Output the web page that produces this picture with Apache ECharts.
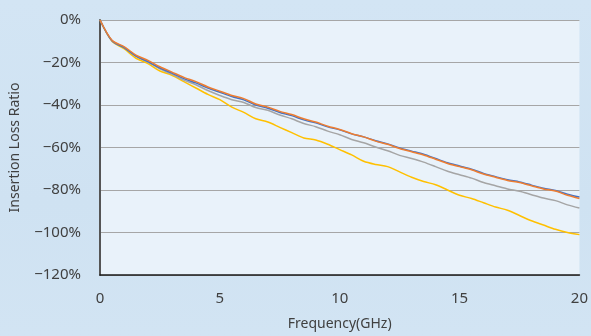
<!DOCTYPE html>
<html>
<head>
<meta charset="utf-8">
<script src="https://cdn.jsdelivr.net/npm/echarts@6/dist/echarts.min.js"></script>
<style>
  html, body { margin: 0; padding: 0; }
  body {
    width: 591px; height: 336px; overflow: hidden;
    background: linear-gradient(180deg, #d3e5f4 0%, #cfe2f2 60%, #d2e4f3 100%);
  }
  #chart { width: 591px; height: 336px; }
</style>
</head>
<body>
<div id="chart"></div>
<script>
// frequency points (GHz)
const freq = [0, 0.5, 1, 1.5, 2, 2.5, 3, 3.5, 4, 4.5, 5, 5.5, 6, 6.5, 7, 7.5, 8, 8.5, 9, 9.5,
  10, 10.5, 11, 11.5, 12, 12.5, 13, 13.5, 14, 14.5, 15, 15.5, 16, 16.5, 17, 17.5, 18, 18.5, 19, 19.5, 20];

// insertion loss ratio (%)
const orangeVals = [0, -9.5, -12.5, -16.5, -19, -22, -24.5, -27, -29, -31.5, -33.5, -35.5, -37, -39.5, -41,
  -43, -44.5, -46.5, -48, -50, -51.5, -53.5, -55, -57, -58.5, -60.5, -62, -63.5, -65.5, -67.5,
  -69, -70.5, -72.5, -74, -75.5, -76.5, -78, -79.5, -80.5, -82.5, -84];
const blueVals = [0, -9.8, -13, -17, -19.6, -22.6, -25, -27.6, -29.6, -32, -34, -36, -37.6, -40, -41.5,
  -43.5, -45, -47, -48.4, -50.3, -51.7, -53.6, -55, -56.8, -58.3, -60.2, -61.7, -63.2, -65.2, -67.2,
  -68.7, -70.2, -72.2, -73.7, -75.2, -76.2, -77.7, -79.2, -80.2, -82, -83.3];
const grayVals = [0, -9.8, -12.8, -17, -19.8, -23, -25.5, -28.3, -30.5, -33.2, -35.5, -37.5, -38.8, -41.2, -42.5,
  -44.7, -46.5, -48.7, -50.2, -52.3, -54, -56.2, -57.8, -59.8, -61.5, -63.7, -65.2, -66.9, -69, -71.2,
  -72.8, -74.4, -76.5, -78, -79.5, -80.6, -82.2, -83.8, -85, -87, -88.5];
const yellowVals = [0, -10, -13.5, -18, -20.5, -24, -26, -29, -32, -35, -37.5, -41, -43.5, -46.5, -48,
  -50.5, -53, -55.5, -56.5, -58.5, -61, -63.5, -66.5, -68, -69, -71.5, -74, -76, -77.5, -80,
  -82.5, -84, -86, -88, -89.5, -92, -94.5, -96.5, -98.5, -100, -101];

const xTicks = [0, 5, 10, 15, 20];
const yTicks = [0, -20, -40, -60, -80, -100, -120];

const pairs = (vals) => freq.map((f, i) => [f, vals[i]]);
const fontFamily = '"Noto Sans", "Open Sans", sans-serif';

const chart = echarts.init(document.getElementById('chart'));
const lineSeries = (name, vals, color) => ({
  name,
  type: 'line',
  data: pairs(vals),
  smooth: 0.3,
  symbol: 'none',
  lineStyle: { color, width: 1.5 },
  animation: false,
});

chart.setOption({
  grid: {
    left: 98, right: 8, top: 20, bottom: 52,
    show: true, backgroundColor: '#e9f2fa', borderWidth: 0,
  },
  xAxis: {
    type: 'value',
    min: xTicks[0], max: xTicks[xTicks.length - 1], interval: 5,
    name: 'Frequency(GHz)', nameLocation: 'middle', nameGap: 42,
    nameTextStyle: { color: '#404040', fontSize: 14, fontFamily },
    axisLine: { show: true, onZero: false, lineStyle: { color: '#1a1a1a', width: 1.5 } },
    axisTick: { show: false },
    axisLabel: { color: '#404040', fontSize: 15, fontFamily, margin: 16 },
    splitLine: { show: false },
  },
  yAxis: {
    type: 'value',
    min: yTicks[yTicks.length - 1], max: yTicks[0], interval: 20,
    name: 'Insertion Loss Ratio', nameLocation: 'middle', nameGap: 78, nameRotate: 90,
    nameTextStyle: { color: '#404040', fontSize: 14, fontFamily },
    axisLine: { show: true, onZero: false, lineStyle: { color: '#555', width: 2 } },
    axisTick: { show: false },
    axisLabel: {
      color: '#404040', fontSize: 15, fontFamily, margin: 19,
      formatter: (v) => (v < 0 ? '\u2212' + (-v) : v) + '%',
    },
    splitLine: { show: true, lineStyle: { color: '#a6a6a6', width: 1.2 } },
  },
  series: [
    lineSeries('yellow', yellowVals, '#ffc000'),
    lineSeries('gray', grayVals, '#a5a5a5'),
    lineSeries('blue', blueVals, '#4472c4'),
    lineSeries('orange', orangeVals, '#ed7d31'),
  ],
});
</script>
</body>
</html>
